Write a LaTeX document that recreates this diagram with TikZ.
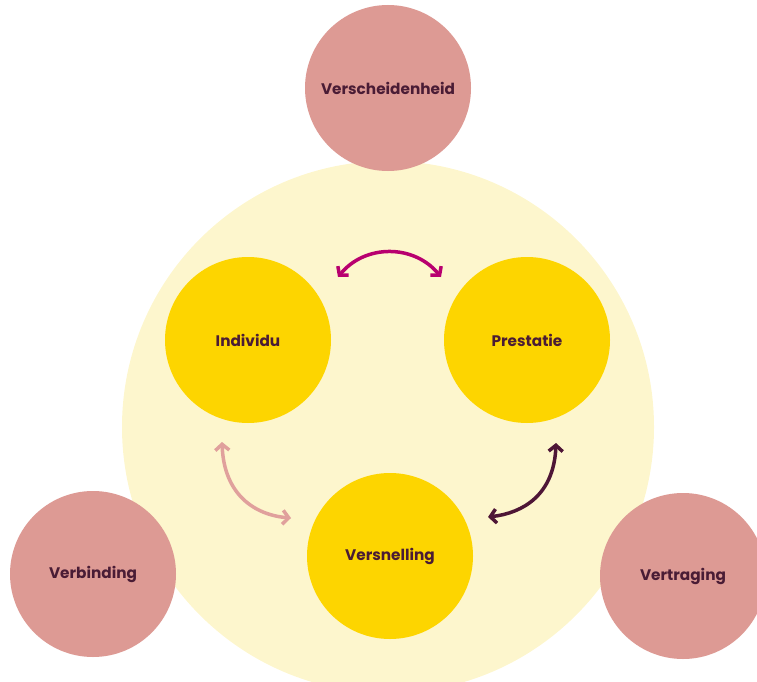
\documentclass[tikz,border=0pt]{standalone}
\usepackage{fontspec}
\setmainfont{Poppins}
\usetikzlibrary{arrows.meta}
\definecolor{bigyellow}{HTML}{FDF6CD}
\definecolor{sunyellow}{HTML}{FDD500}
\definecolor{rosepink}{HTML}{DD9A94}
\definecolor{plumtext}{HTML}{4A1C35}
\definecolor{magentaarrow}{HTML}{B8006F}
\definecolor{pinkarrow}{HTML}{E0A09C}
\definecolor{plumarrow}{HTML}{4E1636}
\tikzset{
  outer/.style={circle, fill=rosepink, minimum size=166pt, inner sep=0pt, text=plumtext, font=\fontsize{15.3}{17}\selectfont\bfseries},
  inner/.style={circle, fill=sunyellow, minimum size=166pt, inner sep=0pt, text=plumtext, font=\fontsize{15.3}{17}\selectfont\bfseries},
  link/.style={line width=3.5pt, line cap=round, {Straight Barb[length=6pt,width=14pt,line width=3.5pt]}-{Straight Barb[length=6pt,width=14pt,line width=3.5pt]}}
}
\begin{document}
\begin{tikzpicture}[x=1pt,y=-1pt]
\useasboundingbox (0,0) rectangle (757,682);
\clip (0,0) rectangle (757,682);
\node[circle, fill=bigyellow, minimum size=532pt, inner sep=0pt] (big) at (388,427) {};
\node[outer] (vers) at (388,88) {Verscheidenheid};
\node[outer] (verb) at (93,574) {Verbinding};
\node[outer] (vert) at (683,576) {Vertraging};
\node[inner] (ind) at (248,340) {Individu};
\node[inner] (pre) at (527,340) {Prestatie};
\node[inner] (vsn) at (390,556) {Versnelling};
\coordinate (a1) at (338,277);
\coordinate (a2) at (441,277);
\coordinate (b1) at (222,442);
\coordinate (b2) at (291,518);
\coordinate (c1) at (556,443);
\coordinate (c2) at (488,517);
\draw[link, magentaarrow] (a1) .. controls (365,244) and (414,244) .. (a2);
\draw[link, pinkarrow] (b1) .. controls (224,495) and (255,515) .. (b2);
\draw[link, plumarrow] (c1) .. controls (554,495) and (523,513) .. (c2);
\end{tikzpicture}
\end{document}
